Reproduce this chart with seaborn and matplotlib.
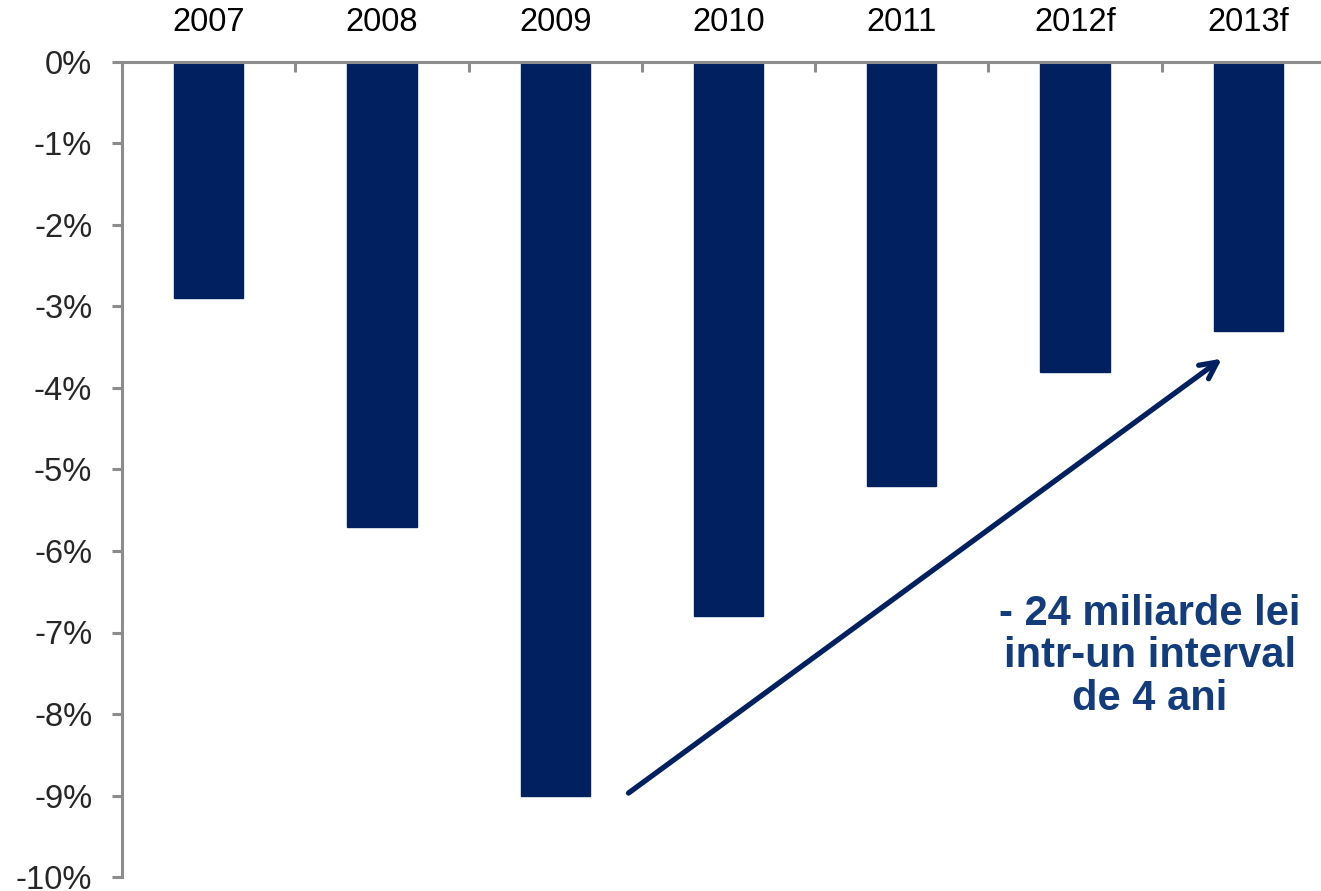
import matplotlib
matplotlib.use("Agg")
import matplotlib.pyplot as plt
import seaborn as sns
import pandas as pd
from matplotlib.ticker import FuncFormatter, FixedLocator

# date
ani = ["2007", "2008", "2009", "2010", "2011", "2012f", "2013f"]
deficit = [-2.9, -5.7, -9.0, -6.8, -5.2, -3.8, -3.3]
yticks = list(range(-10, 1))
nota = "- 24 miliarde lei\nintr-un interval\nde 4 ani"

sns.set_style("white")
plt.rcParams["font.family"] = ["Liberation Sans", "DejaVu Sans"]

df = pd.DataFrame({"an": ani, "deficit": deficit})

fig = plt.figure(figsize=(13.21, 8.91), dpi=100)
ax = fig.add_axes([122 / 1321, 14 / 891, 1213 / 1321, 815 / 891])

sns.barplot(data=df, x="an", y="deficit", color="#002060", width=0.4,
            saturation=1, edgecolor="#002060", ax=ax)

ax.set_ylim(-10, 0)
ax.set_xlim(-0.5, len(ani) - 0.5)
ax.set_xlabel("")
ax.set_ylabel("")

# axa x sus
ax.xaxis.tick_top()
ax.tick_params(axis="x", which="major", length=0, pad=17, labelsize=23.5, colors="black")
ax.xaxis.set_minor_locator(FixedLocator([i + 0.5 for i in range(len(ani) - 1)]))
ax.tick_params(axis="x", which="minor", direction="in", length=7.5, width=2.2, color="#8c8c8c", top=True)

ax.set_yticks(yticks)
ax.yaxis.set_major_formatter(FuncFormatter(lambda v, p: f"{v:.0f}%"))
ax.tick_params(axis="y", direction="out", length=7.5, width=2.2, color="#8c8c8c", pad=14, labelsize=23.5, left=True)

for s in ["bottom", "right"]:
    ax.spines[s].set_visible(False)
for s in ["left", "top"]:
    ax.spines[s].set_color("#8c8c8c")
    ax.spines[s].set_linewidth(2.2)

# sageata
ax.annotate("", xy=(5.86, -3.62), xytext=(2.41, -8.99),
            arrowprops=dict(arrowstyle="->,head_length=1.2,head_width=0.6", color="#002060", lw=3.8))

ax.text(5.43, -7.29, nota, ha="center", va="center", fontsize=30, fontweight="bold",
        color="#123c7c", linespacing=1.08)

fig.savefig("out.png", dpi=100)
